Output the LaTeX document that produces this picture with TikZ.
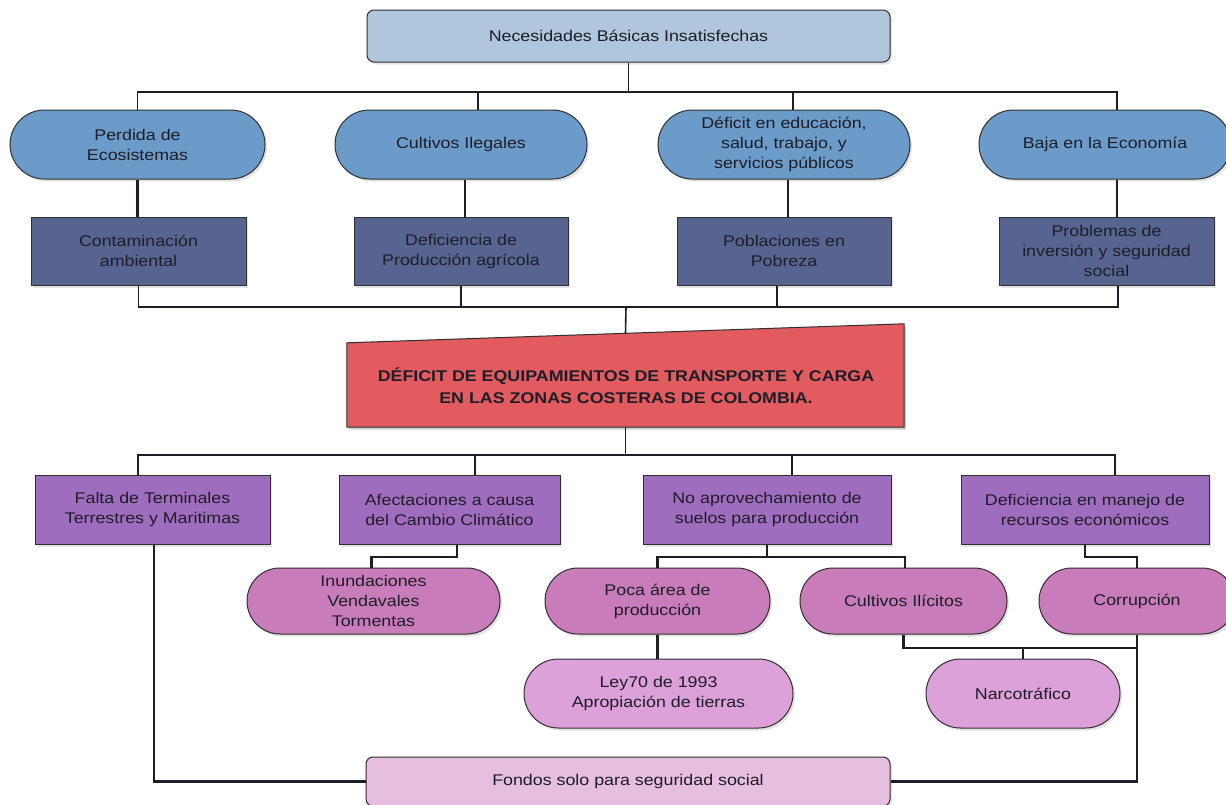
\documentclass[tikz,border=0pt]{standalone}
\usepackage{fontspec}
\setmainfont{Liberation Sans}[FakeStretch=1.15]
\usetikzlibrary{shapes.misc,shadows,calc}

\definecolor{nbifill}{HTML}{AFC6DD}
\definecolor{pillblue}{HTML}{6B9BC8}
\definecolor{slate}{HTML}{57648F}
\definecolor{redfill}{HTML}{E25B5E}
\definecolor{purp}{HTML}{9F6DBD}
\definecolor{orchid}{HTML}{C87CB9}
\definecolor{lorchid}{HTML}{DCA1D8}
\definecolor{lpink}{HTML}{E6BEE0}
\definecolor{edge}{HTML}{303030}
\definecolor{ink}{HTML}{1E1E28}

\tikzset{
  base/.style={draw=edge, line width=1pt, text=ink, align=center, inner sep=0pt,
    font=\fontsize{15.5}{20}\selectfont,
    drop shadow={shadow xshift=2pt, shadow yshift=-2.5pt, opacity=0.22}},
  roundbox/.style={base, rectangle, rounded corners=7pt},
  squarebox/.style={base, rectangle},
  pill/.style={base, rounded rectangle},
  bus/.style={draw=ink, line width=1.6pt},
  link/.style={draw=ink, line width=2.6pt},
}

\begin{document}
\begin{tikzpicture}[x=1pt,y=-1pt]
\fill[white] (0,0) rectangle (1226,804);
\useasboundingbox (0,0) rectangle (1226,804);

% root
\node[roundbox, fill=nbifill, minimum width=523pt, minimum height=52pt] (nbi) at (628.5,36) {Necesidades Básicas Insatisfechas};

% first level: causes
\begin{scope}[every node/.style={pill, fill=pillblue, minimum height=69pt}]
\node[minimum width=255pt] (perd) at (137.5,144.5) {Perdida de\\Ecosistemas};
\node[minimum width=252pt] (cult) at (461,144.5) {Cultivos Ilegales};
\node[minimum width=252pt] (defi) at (784,144.5) {Déficit en educación,\\salud, trabajo, y\\servicios públicos};
\node[minimum width=252pt] (baja) at (1105,144.5) {Baja en la Economía};
\end{scope}

% second level: consequences
\begin{scope}[every node/.style={squarebox, fill=slate, minimum height=68pt}]
\node[minimum width=215pt] (cont) at (138.5,251) {Contaminación\\ambiental};
\node[minimum width=214pt] (defp) at (461,251) {Deficiencia de\\Producción agrícola};
\node[minimum width=214pt] (pobl) at (784,251) {Poblaciones en\\Pobreza};
\node[minimum width=215pt] (prob) at (1106.5,251) {Problemas de\\inversión y seguridad\\social};
\end{scope}

% central problem
\node[inner sep=0pt, minimum width=557pt, minimum height=103pt] (deficit) at (625.5,375.5) {};
\fill[black, opacity=0.2] ([shift={(2pt,-2.5pt)}]deficit.south west) -- ([shift={(2pt,-2.5pt)}]deficit.south east)
  -- ([shift={(2pt,-2.5pt)}]deficit.north east) -- ([shift={(2pt,-21.5pt)}]deficit.north west) -- cycle;
\filldraw[fill=redfill, draw=edge, line width=1pt] (deficit.south west) -- (deficit.south east)
  -- (deficit.north east) -- ([yshift=-19pt]deficit.north west) -- cycle;
\node[align=center, text=ink, font=\fontsize{15.5}{22}\selectfont\bfseries] (deftxt) at (626,386)
  {DÉFICIT DE EQUIPAMIENTOS DE TRANSPORTE Y CARGA\\EN LAS ZONAS COSTERAS DE COLOMBIA.};

% effects
\begin{scope}[every node/.style={squarebox, fill=purp, minimum height=69pt}]
\node[minimum width=235pt] (falta) at (152.5,509.5) {Falta de Terminales\\Terrestres y Maritimas};
\node[minimum width=221pt] (afec) at (449.5,509.5) {Afectaciones a causa\\del Cambio Climático};
\node[minimum width=248pt] (noap) at (767,509.5) {No aprovechamiento de\\suelos para producción};
\node[minimum width=248pt] (defm) at (1085,509.5) {Deficiencia en manejo de\\recursos económicos};
\end{scope}

\begin{scope}[every node/.style={pill, fill=orchid, minimum height=66pt}]
\node[minimum width=253pt] (inun) at (373.5,601) {Inundaciones\\Vendavales\\Tormentas};
\node[minimum width=225pt] (poca) at (657.5,601) {Poca área de\\producción};
\node[minimum width=207pt] (cili) at (903.5,601) {Cultivos Ilícitos};
\node[minimum width=196pt] (corr) at (1137,601) {Corrupción};
\end{scope}

\begin{scope}[every node/.style={pill, fill=lorchid, minimum height=69pt}]
\node[minimum width=269pt] (ley) at (658.5,693.5) {Ley70 de 1993\\Apropiación de tierras};
\node[minimum width=194pt] (narco) at (1023,693.5) {Narcotráfico};
\end{scope}

\node[roundbox, fill=lpink, minimum width=524pt, minimum height=49pt] (fondos) at (628,781.5) {Fondos solo para seguridad social};

% bus levels
\coordinate (busA) at (628,92);
\coordinate (busB) at (626,307);
\coordinate (busC) at (626,455);
\coordinate (busD) at (626,557);
\coordinate (busF) at (626,648);

% root to causes
\draw[bus] (nbi.south) -- (nbi.south |- busA);
\draw[bus] (perd.north) |- ([xshift=12pt]baja.north |- busA) -- ([xshift=12pt]baja.north);
\draw[bus] ([xshift=17pt]cult.north) -- ([xshift=17pt]cult.north |- busA);
\draw[bus] ([xshift=9pt]defi.north) -- ([xshift=9pt]defi.north |- busA);

% causes to consequences
\draw[link] (perd.south) -- (perd.south |- cont.north);
\draw[link] ([xshift=4pt]cult.south) -- ([xshift=4pt]cult.south |- defp.north);
\draw[link] ([xshift=4pt]defi.south) -- ([xshift=4pt]defi.south |- pobl.north);
\draw[link] ([xshift=12pt]baja.south) -- ([xshift=12pt]baja.south |- prob.north);

% consequences to central problem
\draw[bus] (cont.south) |- ([xshift=11.5pt]prob.south |- busB) -- ([xshift=11.5pt]prob.south);
\draw[bus] (defp.south) -- (defp.south |- busB);
\draw[bus] ([xshift=-7pt]pobl.south) -- ([xshift=-7pt]pobl.south |- busB);
\draw[bus] (busB) -- ([yshift=-9.5pt]deficit.north);

% central problem to effects
\draw[bus] (deficit.south) -- (deficit.south |- busC);
\draw[bus] ([xshift=-14.5pt]falta.north) |- ([xshift=30pt]defm.north |- busC) -- ([xshift=30pt]defm.north);
\draw[bus] ([xshift=25.5pt]afec.north) -- ([xshift=25.5pt]afec.north |- busC);
\draw[bus] ([xshift=25pt]noap.north) -- ([xshift=25pt]noap.north |- busC);

% effects to sub-effects
\draw[link] ([xshift=7.5pt]afec.south) |- ([xshift=-2pt]inun.north |- busD) -- ([xshift=-2pt]inun.north);
\draw[link] (noap.south) -- (noap.south |- busD);
\draw[link] (poca.north) |- ([xshift=1.5pt]cili.north |- busD) -- ([xshift=1.5pt]cili.north);
\draw[link] (defm.south) |- (corr.north |- busD) -- (corr.north);
\draw[link] (poca.south) -- (poca.south |- ley.north);
\draw[link] (cili.south) |- (corr.south |- busF);
\draw[link] (narco.north) -- (narco.north |- busF);
\draw[link] (corr.south) |- (fondos.east);
\draw[link] ([xshift=1.5pt]falta.south) |- (fondos.west);
\end{tikzpicture}
\end{document}
